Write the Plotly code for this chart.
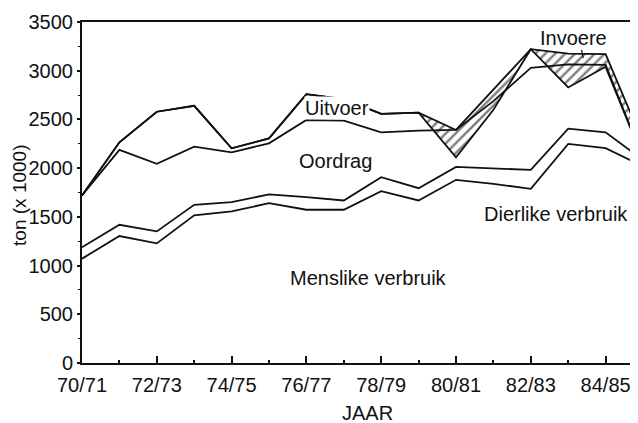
import plotly.graph_objects as go

# ---- data ----
years = ["70/71", "71/72", "72/73", "73/74", "74/75", "75/76", "76/77", "77/78",
         "78/79", "79/80", "80/81", "81/82", "82/83", "83/84", "84/85", "85/86"]
# cumulative levels (ton x 1000)
menslike = [1071, 1303, 1228, 1515, 1556, 1640, 1573, 1573, 1763, 1668, 1880, 1839, 1788, 2248, 2205, 2018]
dierlike = [1187, 1419, 1351, 1624, 1651, 1730, 1702, 1668, 1907, 1794, 2013, 1999, 1982, 2405, 2367, 2085]
oordrag = [1719, 2187, 2044, 2221, 2162, 2255, 2494, 2487, 2367, 2385, 2392, 2688, 3030, 3065, 3060, 2095]
uitvoer = [1719, 2265, 2579, 2640, 2203, 2306, 2760, 2709, 2558, 2569, 2392, 2810, 3221, 3176, 3170, 2264]
produksie = [1719, 2265, 2579, 2640, 2203, 2306, 2760, 2709, 2558, 2569, 2111, 2600, 3221, 2828, 3040, 2095]

y_ticks = [0, 500, 1000, 1500, 2000, 2500, 3000, 3500]
x_idx = list(range(len(years)))
major_idx = x_idx[::2]
minor_idx = x_idx[1::2]
tick_text = [years[i] for i in major_idx]

FONT = "Liberation Sans, Arial, sans-serif"
LINE = dict(color="#111111", width=1.8)

fig = go.Figure()
fig.add_trace(go.Scatter(x=x_idx, y=uitvoer, mode="lines", line=LINE, showlegend=False))
fig.add_trace(go.Scatter(x=x_idx, y=produksie, mode="lines", line=LINE, showlegend=False,
                         fill="tonexty", fillcolor="rgba(255,255,255,0)",
                         fillpattern=dict(shape="/", fgcolor="#000000", bgcolor="white",
                                          size=7, solidity=0.35)))
fig.add_trace(go.Scatter(x=x_idx, y=oordrag, mode="lines", line=LINE, showlegend=False))
fig.add_trace(go.Scatter(x=x_idx, y=dierlike, mode="lines", line=LINE, showlegend=False))
fig.add_trace(go.Scatter(x=x_idx, y=menslike, mode="lines", line=LINE, showlegend=False))

lab = dict(family=FONT, size=20, color="#111111")
C = dict(xanchor="center", yanchor="middle", showarrow=False, font=lab)
fig.add_annotation(x=6.83, y=2615, text="Uitvoer", bgcolor="white", borderpad=0, **C)
fig.add_annotation(x=6.79, y=2078, text="Oordrag", **C)
fig.add_annotation(x=12.67, y=1530, text="Dierlike verbruik", **C)
fig.add_annotation(x=7.65, y=875, text="Menslike verbruik", **C)
fig.add_annotation(x=13.14, y=3331, text="Invoere", **C)
fig.add_annotation(x=13.4, y=3130, ax=13.35, ay=3230, axref="x", ayref="y", text="",
                   showarrow=True, arrowhead=0, arrowwidth=1.2, arrowcolor="#111111")
fig.add_annotation(x=0.514, y=-0.146, xref="paper", yref="paper", text="JAAR", **C)
fig.add_annotation(x=-0.1115, y=0.49, xref="paper", yref="paper", text="ton (x 1000)",
                   textangle=-90, xanchor="center", yanchor="middle", showarrow=False,
                   borderpad=0, font=dict(family=FONT, size=19, color="#111111"))

# page body has an 8px default margin, so the figure is shifted by -8px here
fig.update_layout(
    width=638, height=423,
    margin=dict(l=74, r=8, t=14, b=68, autoexpand=False),
    paper_bgcolor="white", plot_bgcolor="white",
    font=dict(family=FONT, size=20, color="#111111"),
)
fig.update_xaxes(
    automargin=False,
    range=[0, 14.866], tickmode="array", tickvals=major_idx, ticktext=tick_text,
    showgrid=False, zeroline=False, showline=True, linecolor="#111111", linewidth=2,
    mirror=True, ticks="inside", ticklen=7, tickwidth=1.5, tickcolor="#111111",
    tickfont=dict(family=FONT, size=20), ticklabelstandoff=3,
    minor=dict(tickmode="array", tickvals=minor_idx, ticks="inside", ticklen=3,
               tickwidth=1.5, tickcolor="#111111", showgrid=False),
)
fig.update_yaxes(
    automargin=False,
    range=[0, 3500], tickmode="array", tickvals=y_ticks,
    showgrid=False, zeroline=False, showline=True, linecolor="#111111", linewidth=2,
    ticks="outside", ticklen=3, tickwidth=1.5, tickcolor="#111111",
    tickfont=dict(family=FONT, size=20),
    minor=dict(tickmode="linear", tick0=250, dtick=500, ticks="outside", ticklen=2,
               tickwidth=1.2, tickcolor="#111111", showgrid=False),
)

fig.write_html("out.html")
